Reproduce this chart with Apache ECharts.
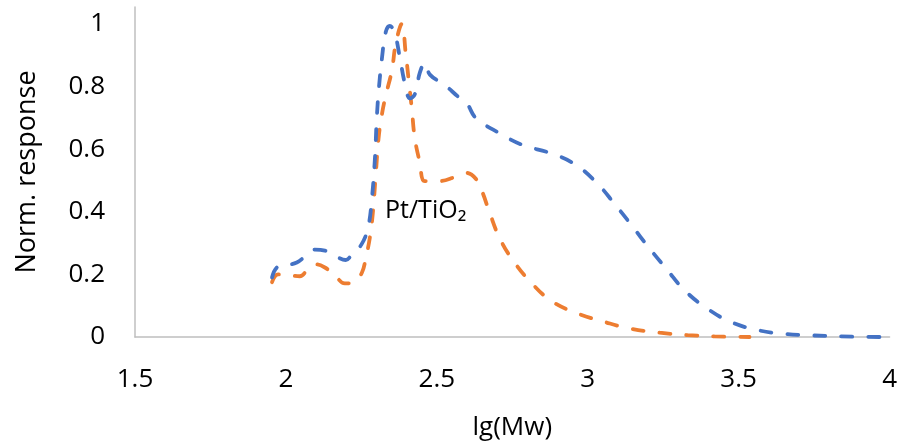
<!DOCTYPE html>
<html>
<head>
<meta charset="utf-8">
<script src="https://cdn.jsdelivr.net/npm/echarts@6/dist/echarts.min.js"></script>
<style>
  html, body { margin: 0; padding: 0; background: #fff; }
  #main { width: 900px; height: 446px; }
</style>
</head>
<body>
<div id="main"></div>
<script>
// blue curve (lg(Mw), normalized response)
var blueX = [1.954, 1.970, 1.997, 2.036, 2.070, 2.096, 2.129, 2.172, 2.198, 2.222, 2.250, 2.272, 2.285, 2.295, 2.301,
  2.308, 2.318, 2.331, 2.344, 2.361, 2.377, 2.394, 2.411, 2.427, 2.444, 2.460, 2.477, 2.526, 2.570, 2.600, 2.629,
  2.709, 2.785, 2.877, 2.957, 3.030, 3.089, 3.146, 3.202, 3.262, 3.321, 3.394, 3.474, 3.563, 3.652, 3.745, 3.834, 3.967];
var blueY = [0.19, 0.222, 0.229, 0.238, 0.263, 0.279, 0.276, 0.254, 0.246, 0.268, 0.295, 0.349, 0.444, 0.571, 0.698,
  0.794, 0.889, 0.975, 0.994, 0.968, 0.895, 0.81, 0.762, 0.775, 0.845, 0.875, 0.838, 0.805, 0.768, 0.745, 0.70,
  0.65, 0.613, 0.587, 0.552, 0.492, 0.425, 0.356, 0.286, 0.216, 0.149, 0.092, 0.048, 0.022, 0.01, 0.005, 0.002, 0];

// orange curve
var orangeX = [1.954, 1.974, 2.013, 2.046, 2.073, 2.099, 2.129, 2.162, 2.195, 2.228, 2.252, 2.265, 2.278, 2.288, 2.298,
  2.307, 2.317, 2.330, 2.351, 2.364, 2.384, 2.397, 2.407, 2.417, 2.427, 2.444, 2.460, 2.510, 2.560, 2.599, 2.632,
  2.652, 2.675, 2.709, 2.755, 2.815, 2.881, 2.964, 3.056, 3.139, 3.238, 3.331, 3.420, 3.536];
var orangeY = [0.175, 0.2, 0.197, 0.194, 0.216, 0.232, 0.222, 0.197, 0.171, 0.178, 0.206, 0.254, 0.317, 0.397, 0.524,
  0.635, 0.705, 0.768, 0.851, 0.937, 1.0, 0.905, 0.819, 0.73, 0.635, 0.556, 0.498, 0.498, 0.511, 0.524, 0.502,
  0.46, 0.397, 0.314, 0.241, 0.171, 0.114, 0.076, 0.048, 0.027, 0.014, 0.006, 0.002, 0];

var xTicks = { min: 1.5, max: 4, step: 0.5 };
var yTicks = { min: 0, max: 1.054, step: 0.2 };

function pairs(xs, ys) {
  return xs.map(function (x, i) { return [x, ys[i]]; });
}

var font = '"Open Sans", sans-serif';
var chart = echarts.init(document.getElementById('main'));

chart.setOption({
  animation: false,
  grid: { left: 135, right: 10, top: 7, bottom: 106 },
  xAxis: {
    type: 'value',
    min: xTicks.min, max: xTicks.max, interval: xTicks.step,
    name: 'lg(Mw)', nameLocation: 'middle', nameGap: 78,
    nameTextStyle: { fontFamily: font, fontSize: 26, color: '#000' },
    axisLine: { lineStyle: { color: '#bfbfbf', width: 1.5 } },
    axisTick: { show: false },
    splitLine: { show: false },
    axisLabel: {
      fontFamily: font, fontSize: 26, color: '#000', margin: 30,
      formatter: function (v) { return String(+v.toFixed(1)); }
    }
  },
  yAxis: {
    type: 'value',
    min: yTicks.min, max: yTicks.max, interval: yTicks.step,
    name: 'Norm. response', nameLocation: 'middle', nameGap: 94,
    nameTextStyle: { fontFamily: font, fontSize: 27, color: '#000' },
    axisLine: { show: true, lineStyle: { color: '#bfbfbf', width: 1.5 } },
    axisTick: { show: false },
    splitLine: { show: false },
    axisLabel: {
      fontFamily: font, fontSize: 26, color: '#000', margin: 30,
      formatter: function (v) { return v > 1.0001 ? '' : String(+v.toFixed(1)); }
    }
  },
  graphic: [{
    type: 'text', left: 385, top: 198,
    style: { text: 'Pt/TiO\u2082', fontFamily: font, fontSize: 25, fill: '#000' }
  }],
  series: [{
    type: 'line', data: pairs(orangeX, orangeY), smooth: 0.4, showSymbol: false,
    lineStyle: { color: '#ED7D31', width: 3.8, type: [11, 16], cap: 'round' }
  }, {
    type: 'line', data: pairs(blueX, blueY), smooth: 0.4, showSymbol: false,
    lineStyle: { color: '#4472C4', width: 3.8, type: [11, 16], cap: 'round' }
  }]
});
</script>
</body>
</html>
